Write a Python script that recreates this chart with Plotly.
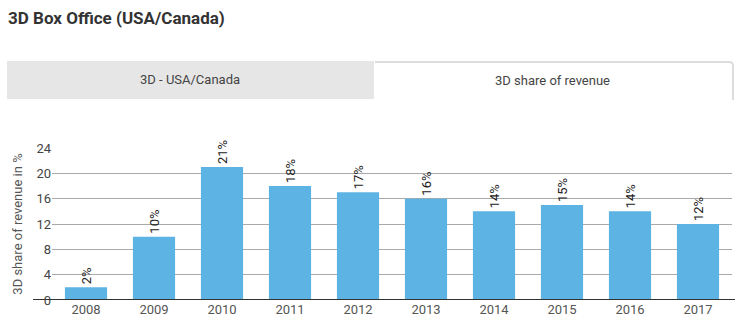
import plotly.graph_objects as go

years = ["2008", "2009", "2010", "2011", "2012", "2013", "2014", "2015", "2016", "2017"]
share = [2, 10, 21, 18, 17, 16, 14, 15, 14, 12]
labels = [f"{v}%" for v in share]
yticks = [0, 4, 8, 12, 16, 20, 24]

W, H = 750, 334
L, R, T, B = 52, 18, 148, 34
pw, ph = W - L - R, H - T - B

def px(x):
    return (x - L) / pw

def py(y):
    return (H - B - y) / ph

fig = go.Figure()
fig.add_trace(go.Bar(
    x=years, y=share, text=labels, textposition="outside", textangle=-90,
    textfont=dict(family="Roboto", size=13, color="#222"),
    marker=dict(color="#5db3e3", line=dict(width=0)),
    cliponaxis=False, hoverinfo="skip",
))

shapes = [
    # grey inactive tab
    dict(type="rect", xref="paper", yref="paper", x0=px(7), x1=px(374), y0=py(99), y1=py(61),
         fillcolor="#e6e6e6", line=dict(width=0), layer="below"),
    # active tab border
    dict(type="path", xref="paper", yref="paper",
         path=f"M {px(375)},{py(62)} L {px(729)},{py(62)} Q {px(733)},{py(62)} {px(733)},{py(66)} L {px(733)},{py(100)}",
         line=dict(color="#dddddd", width=2), layer="below"),
    # baseline
    dict(type="line", xref="paper", yref="y", x0=px(33), x1=px(735), y0=0, y1=0,
         line=dict(color="#333333", width=2)),
]

fig.update_layout(
    width=W, height=H, margin=dict(l=L, r=R, t=T, b=B),
    paper_bgcolor="white", plot_bgcolor="white",
    font=dict(family="Roboto", color="#444"),
    title=dict(text="<b>3D Box Office (USA/Canada)</b>", x=8 / W, xanchor="left", xref="container",
               y=1 - 18 / H, yanchor="middle", yref="container",
               font=dict(family="Roboto", size=17, color="#333")),
    bargap=0.38, showlegend=False,
    xaxis=dict(showgrid=False, showline=False, ticks="", tickfont=dict(size=13, color="#555"),
               range=[-0.5, 9.5]),
    yaxis=dict(range=[0, 24], tickvals=yticks, showgrid=True, gridcolor="#aaaaaa", gridwidth=1,
               zeroline=False, showline=False, ticks="", tickfont=dict(size=13, color="#444"),
               title=dict(text="3D share of revenue in %", font=dict(size=13, color="#555"), standoff=10)),
    shapes=shapes,
    annotations=[
        dict(text="3D - USA/Canada", xref="paper", yref="paper", x=px(190), y=py(80),
             xanchor="center", yanchor="middle",
             showarrow=False, font=dict(size=13, color="#444")),
        dict(text="3D share of revenue", xref="paper", yref="paper", x=px(552), y=py(81),
             xanchor="center", yanchor="middle",
             showarrow=False, font=dict(size=13, color="#444")),
    ],
)

fig.write_html("out.html")
